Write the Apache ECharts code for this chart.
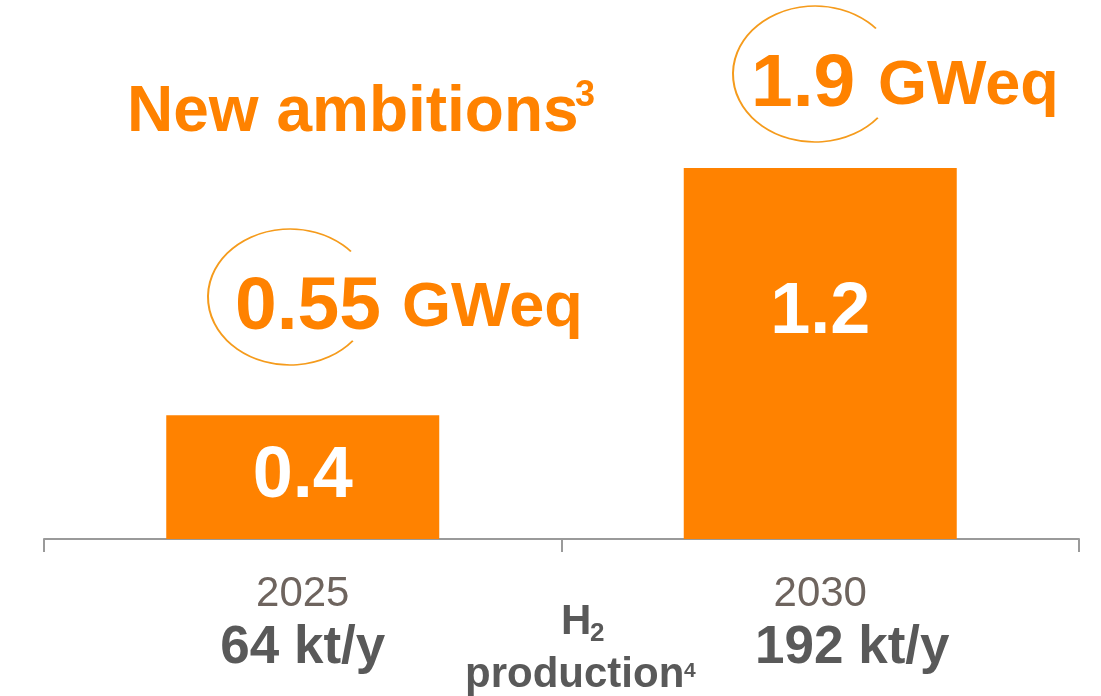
<!DOCTYPE html>
<html>
<head>
<meta charset="utf-8">
<script src="https://cdn.jsdelivr.net/npm/echarts@6/dist/echarts.min.js"></script>
<style>
  html, body { margin: 0; padding: 0; background: #fff; }
  #main { width: 1101px; height: 696px; }
</style>
</head>
<body>
<div id="main"></div>
<script>
// data
const years = ['2025', '2030'];
const capacity = [0.4, 1.2];          // GW electrolysis (bar labels)
const production = ['64 kt/y', '192 kt/y'];
const ambitions = ['0.55', '1.9'];    // new ambitions, GWeq

const ORANGE = '#FF8200';
const font = 'Liberation Sans, Arial, sans-serif';

let chart = echarts.init(document.getElementById('main'), null, {renderer: 'canvas'});

// label settings per bar (0.4 centred, 1.2 near the top)
let barData = capacity.map(function(v, i){
    return {
        value: v,
        label: i === 0 ? {position: 'inside'} : {position: 'insideTop', distance: 109}
    };
});

// open ellipse arcs around the ambition numbers
function ring(cx, cy){
    return {
        type: 'arc',
        x: cx, y: cy,
        scaleY: 68 / 82,
        shape: {cx: 0, cy: 0, r: 82, startAngle: 40 * Math.PI / 180, endAngle: 318 * Math.PI / 180, clockwise: true},
        style: {fill: null, stroke: '#F59B1C', lineWidth: 2},
        silent: true
    };
}

function txt(text, x, y, size, color, align){
    return {
        type: 'text', x: x, y: y, silent: true,
        style: {
            text: text, fill: color || ORANGE,
            font: 'bold ' + size + 'px ' + font,
            align: align || 'left', verticalAlign: 'middle'
        }
    };
}

let option = {
    backgroundColor: '#fff',
    animation: false,
    grid: {left: 44, right: 22, top: 168, bottom: 157},
    xAxis: {
        type: 'category',
        data: years,
        axisLine: {lineStyle: {color: '#9a9a9a', width: 2}},
        axisTick: {show: true, length: 13, lineStyle: {color: '#9a9a9a', width: 2}},
        axisLabel: {
            margin: 33,
            formatter: function(val, idx){
                let p = idx === 1 ? 'q' : 'p';
                return '{y|' + val + '}\n{' + p + '|' + production[idx] + '}';
            },
            rich: {
                y: {fontFamily: font, fontSize: 42, color: '#6E645E', lineHeight: 44},
                p: {fontFamily: font, fontSize: 53, fontWeight: 'bold', color: '#595959', lineHeight: 64},
                q: {fontFamily: font, fontSize: 53, fontWeight: 'bold', color: '#595959', lineHeight: 64, padding: [0, 0, 0, 64]}
            }
        }
    },
    yAxis: {type: 'value', min: 0, max: 1.2, show: false, splitLine: {show: false}},
    series: [{
        type: 'bar',
        data: barData,
        barWidth: 273,
        itemStyle: {color: ORANGE},
        label: {
            show: true,
            color: '#fff',
            fontFamily: font,
            fontSize: 72,
            fontWeight: 'bold'
        }
    }],
    graphic: [
        txt('New ambitions', 127, 113, 64),
        txt('3', 575, 96, 36),
        ring(290, 297),
        txt(ambitions[0], 235, 308, 75),
        txt('GWeq', 402, 309, 63),
        ring(815, 74),
        txt(ambitions[1], 751, 85, 75),
        txt('GWeq', 878, 87, 63),
        txt('H', 561, 622, 42, '#595959'),
        txt('2', 590, 634, 26, '#595959'),
        txt('production', 465, 675, 42, '#595959'),
        txt('4', 684, 671, 21, '#595959')
    ]
};

chart.setOption(option);
window.addEventListener('resize', () => {
    chart.resize();
});
</script>
</body>
</html>
